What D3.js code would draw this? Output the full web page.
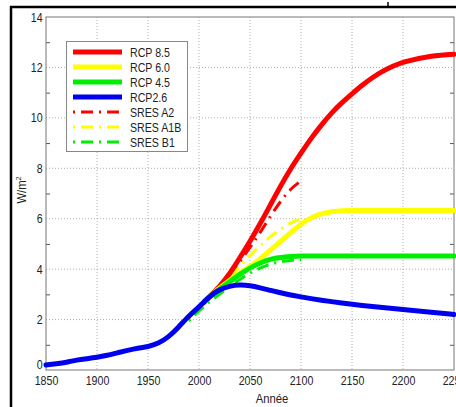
<!DOCTYPE html>
<html>
<head>
<meta charset="utf-8">
<script src="https://cdn.jsdelivr.net/npm/d3@7"></script>
<style>
  body { margin: 0; background: #fff; }
  svg { display: block; }
  text { font-family: "Liberation Sans", Arial, sans-serif; }
</style>
</head>
<body>
<div id="chart"></div>
<script>
const width = 456,
    height = 407;

// données
const histYears = [1850, 1860, 1870, 1880, 1890, 1900, 1910, 1920, 1930, 1940, 1950, 1960, 1970, 1980, 1990, 2000, 2005];
const histVals = [0.2, 0.25, 0.3, 0.4, 0.45, 0.5, 0.58, 0.68, 0.78, 0.87, 0.92, 1.05, 1.3, 1.7, 2.15, 2.5, 2.7];

const rcpYears = [2005, 2010, 2020, 2030, 2040, 2050, 2060, 2070, 2080, 2090, 2100, 2110, 2120, 2130, 2140, 2150, 2160, 2170, 2180, 2190, 2200, 2225, 2250];
const rcp85 = [2.7, 2.9, 3.3, 3.8, 4.45, 5.1, 5.8, 6.55, 7.3, 8.0, 8.6, 9.2, 9.72, 10.2, 10.6, 10.95, 11.3, 11.6, 11.85, 12.05, 12.22, 12.45, 12.52];
const rcp60 = [2.7, 2.9, 3.25, 3.55, 3.85, 4.1, 4.4, 4.75, 5.1, 5.45, 5.8, 6.05, 6.2, 6.28, 6.32, 6.33, 6.33, 6.33, 6.33, 6.33, 6.33, 6.33, 6.33];
const rcp45 = [2.7, 2.9, 3.2, 3.5, 3.8, 4.05, 4.25, 4.4, 4.47, 4.5, 4.52, 4.52, 4.52, 4.52, 4.52, 4.52, 4.52, 4.52, 4.52, 4.52, 4.52, 4.52, 4.52];
const rcp26 = [2.7, 2.9, 3.2, 3.33, 3.38, 3.35, 3.26, 3.16, 3.06, 2.97, 2.9, 2.83, 2.77, 2.71, 2.66, 2.61, 2.56, 2.52, 2.48, 2.44, 2.4, 2.3, 2.2];

const sresYears = [1990, 2000, 2010, 2020, 2030, 2040, 2050, 2060, 2070, 2080, 2090, 2100];
const sresA2 = [2.0, 2.4, 2.8, 3.25, 3.75, 4.3, 4.85, 5.45, 6.1, 6.7, 7.2, 7.5];
const sresA1B = [2.0, 2.4, 2.8, 3.2, 3.65, 4.1, 4.55, 4.95, 5.3, 5.6, 5.85, 6.0];
const sresB1 = [1.95, 2.35, 2.7, 3.0, 3.3, 3.6, 3.85, 4.05, 4.2, 4.3, 4.35, 4.38];

const xTicks = [1850, 1900, 1950, 2000, 2050, 2100, 2150, 2200, 2250];
const yTicks = [0, 2, 4, 6, 8, 10, 12, 14];
const yMinor = [1, 3, 5, 7, 9, 11, 13];

const svg = d3.select('#chart')
    .append('svg')
    .attr('width', width)
    .attr('height', height);

// cadre noir de la page (recadrage)
svg.append('line').attr('x1', 10).attr('x2', width).attr('y1', 7).attr('y2', 7)
    .attr('stroke', '#000').attr('stroke-width', 2.5);
svg.append('line').attr('x1', 11).attr('x2', 11).attr('y1', 6).attr('y2', height)
    .attr('stroke', '#000').attr('stroke-width', 2.5);
svg.append('line').attr('x1', 388).attr('x2', 388).attr('y1', 2).attr('y2', 7)
    .attr('stroke', '#000').attr('stroke-width', 1.5);

const m = {left: 46, top: 17, right: 454, bottom: 370};

const x = d3.scaleLinear().domain([1850, 2250]).range([m.left, m.right]);
const y = d3.scaleLinear().domain([0, 14]).range([m.bottom, m.top]);

// grille pointillée
const grid = svg.append('g');
grid.selectAll('.gx').data(xTicks.slice(1, -1)).enter().append('line')
    .attr('x1', d => x(d)).attr('x2', d => x(d))
    .attr('y1', m.top).attr('y2', m.bottom)
    .attr('stroke', '#999').attr('stroke-width', 0.8).attr('stroke-dasharray', '1,2');
grid.selectAll('.gy').data(yTicks.slice(1, -1)).enter().append('line')
    .attr('x1', m.left).attr('x2', m.right)
    .attr('y1', d => y(d)).attr('y2', d => y(d))
    .attr('stroke', '#999').attr('stroke-width', 0.8).attr('stroke-dasharray', '1,2');

// petites graduations sur les deux côtés
svg.append('g').attr('transform', `translate(${m.left},0)`)
    .call(d3.axisLeft(y).tickValues(yMinor).tickSize(-4).tickFormat(''))
    .call(g => g.select('.domain').remove())
    .selectAll('line').attr('stroke', '#555');
svg.append('g').attr('transform', `translate(${m.right},0)`)
    .call(d3.axisRight(y).tickValues(yMinor).tickSize(-4).tickFormat(''))
    .call(g => g.select('.domain').remove())
    .selectAll('line').attr('stroke', '#555');

// axes (texte un peu étroit comme l'original)
const xAxis = svg.append('g').attr('transform', `translate(0,${m.bottom})`)
    .call(d3.axisBottom(x).tickValues(xTicks).tickSize(0).tickPadding(6).tickFormat(d3.format('d')));
xAxis.select('.domain').remove();
xAxis.selectAll('text').attr('font-size', 12.5).attr('fill', '#222')
    .attr('transform', 'scale(0.85,1)')
    .style('font-family', '"Liberation Sans", Arial, sans-serif');

const yAxis = svg.append('g').attr('transform', `translate(${m.left},0)`)
    .call(d3.axisLeft(y).tickValues(yTicks).tickSize(0).tickPadding(4));
yAxis.select('.domain').remove();
yAxis.selectAll('text').attr('font-size', 12.5).attr('fill', '#222')
    .attr('transform', 'scale(0.85,1)')
    .style('font-family', '"Liberation Sans", Arial, sans-serif');
yAxis.selectAll('.tick').filter(d => d === 0).select('text').attr('dy', '-0.1em');

// boîte du graphique
svg.append('rect')
    .attr('x', m.left).attr('y', m.top)
    .attr('width', m.right - m.left).attr('height', m.bottom - m.top)
    .attr('fill', 'none').attr('stroke', '#777').attr('stroke-width', 1);

// titres des axes
svg.append('text').attr('transform', 'translate(272,403) scale(0.9,1)').attr('text-anchor', 'middle')
    .attr('font-size', 12.5).attr('fill', '#222').text('Année');
const yl = svg.append('text').attr('transform', 'translate(26,190) rotate(-90) scale(0.9,1)')
    .attr('text-anchor', 'middle').attr('font-size', 12.5).attr('fill', '#222');
yl.append('tspan').text('W/m');
yl.append('tspan').attr('dy', -5).attr('font-size', 8).text('2');

// courbes
const line = d3.line()
    .x(d => x(d[0]))
    .y(d => y(d[1]))
    .curve(d3.curveBasis);

function pairs(years, vals) {
    return years.map((yr, i) => [yr, vals[i]]);
}

const dashDot = '2,6,12,6';
const series = [
    {name: 'SRES A2', years: sresYears, vals: sresA2, color: '#ff0000', w: 3, dash: dashDot},
    {name: 'SRES A1B', years: sresYears, vals: sresA1B, color: '#ffff00', w: 3, dash: dashDot},
    {name: 'SRES B1', years: sresYears, vals: sresB1, color: '#00ee00', w: 3, dash: dashDot},
    {name: 'RCP 8.5', years: rcpYears, vals: rcp85, color: '#ff0000', w: 5},
    {name: 'RCP 6.0', years: rcpYears, vals: rcp60, color: '#ffff00', w: 5},
    {name: 'RCP 4.5', years: rcpYears, vals: rcp45, color: '#00ee00', w: 5},
    {name: 'historique', years: histYears, vals: histVals, color: '#0000ee', w: 5},
    {name: 'RCP2.6', years: rcpYears, vals: rcp26, color: '#0000ee', w: 5}
];

const plot = svg.append('g');
plot.selectAll('path').data(series).enter().append('path')
    .attr('d', d => line(pairs(d.years, d.vals)))
    .attr('fill', 'none')
    .attr('stroke', d => d.color)
    .attr('stroke-width', d => d.w)
    .attr('stroke-linecap', d => d.dash ? 'butt' : 'round')
    .attr('stroke-dasharray', d => d.dash || null);

// légende
const legendItems = [
    {label: 'RCP 8.5', color: '#ff0000', w: 5},
    {label: 'RCP 6.0', color: '#ffff00', w: 5},
    {label: 'RCP 4.5', color: '#00ee00', w: 5},
    {label: 'RCP2.6', color: '#0000ee', w: 5},
    {label: 'SRES A2', color: '#ff0000', w: 3, dash: dashDot},
    {label: 'SRES A1B', color: '#ffff00', w: 3, dash: dashDot},
    {label: 'SRES B1', color: '#00ee00', w: 3, dash: dashDot}
];

const legend = svg.append('g');
legend.append('rect')
    .attr('x', 66.5).attr('y', 41.5).attr('width', 121).attr('height', 110)
    .attr('fill', '#fff').attr('stroke', '#888').attr('stroke-width', 1);
const rows = legend.selectAll('.row').data(legendItems).enter().append('g')
    .attr('transform', (d, i) => `translate(0,${52 + i * 15})`);
rows.append('line')
    .attr('x1', 73).attr('x2', 122).attr('y1', 0).attr('y2', 0)
    .attr('stroke', d => d.color)
    .attr('stroke-width', d => d.w)
    .attr('stroke-dasharray', d => d.dash || null);
rows.append('text')
    .attr('transform', 'translate(130,4.5) scale(0.85,1)')
    .attr('font-size', 12.5).attr('fill', '#222')
    .text(d => d.label);
</script>
</body>
</html>
